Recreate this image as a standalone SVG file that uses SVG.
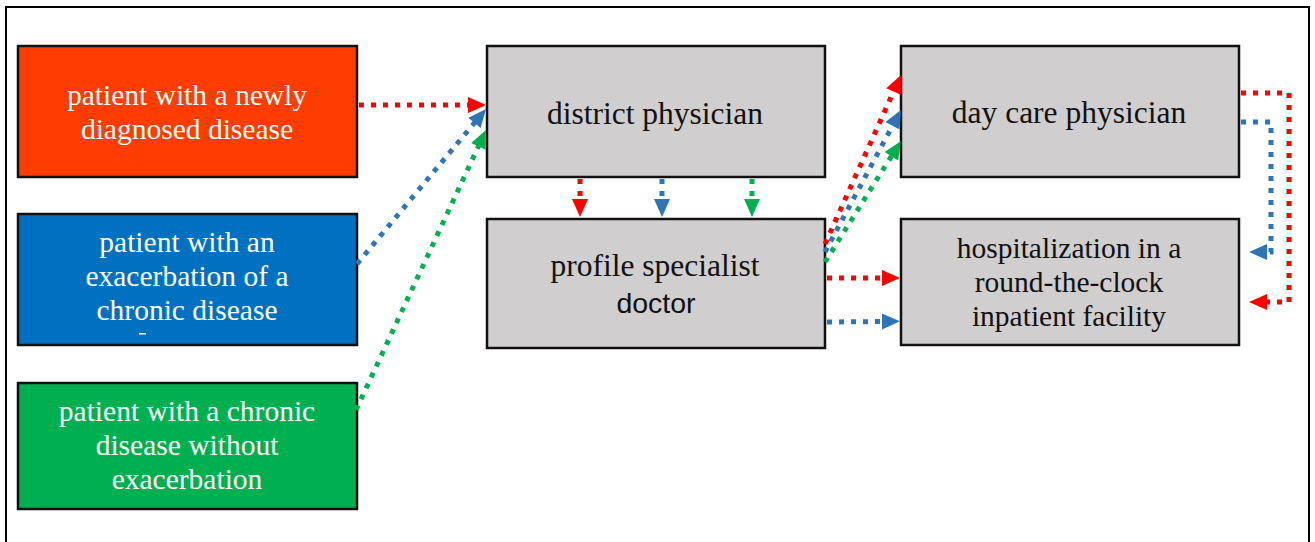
<svg xmlns="http://www.w3.org/2000/svg" width="1315" height="542" viewBox="0 0 1315 542">
<style>
.box{stroke:#111;stroke-width:2.5}
.red{fill:#FF3D00}.blue{fill:#0070C0}.green{fill:#00B050}.gray{fill:#D0CECE}
.wt{font-family:"Liberation Serif","Times New Roman",serif;font-size:29.5px;fill:#fff;text-anchor:middle}
.bt{font-family:"Liberation Serif","Times New Roman",serif;font-size:31.5px;fill:#111;text-anchor:middle}
.ht{font-family:"Liberation Serif","Times New Roman",serif;font-size:29.5px;fill:#111;text-anchor:middle}
.st{font-family:"Liberation Sans",Arial,sans-serif;font-size:28.5px;fill:#111;text-anchor:middle}
.c{fill:none;stroke-width:5;stroke-dasharray:5 7}
.cr{stroke:#FF0000}.cb{stroke:#2E75B6}.cg{stroke:#00B050}
</style>
<defs>
<marker id="ar" markerUnits="userSpaceOnUse" markerWidth="20" markerHeight="18" refX="3" refY="8" orient="auto" overflow="visible"><path d="M0,0 L18,8 L0,16 z" fill="#FF0000"/></marker>
<marker id="ab" markerUnits="userSpaceOnUse" markerWidth="20" markerHeight="18" refX="3" refY="8" orient="auto" overflow="visible"><path d="M0,0 L18,8 L0,16 z" fill="#2E75B6"/></marker>
<marker id="ag" markerUnits="userSpaceOnUse" markerWidth="20" markerHeight="18" refX="3" refY="8" orient="auto" overflow="visible"><path d="M0,0 L18,8 L0,16 z" fill="#00B050"/></marker>
</defs>
<rect x="0" y="0" width="1315" height="542" fill="#fff"/>
<rect x="6" y="7" width="1303" height="580" fill="none" stroke="#000" stroke-width="2"/>

<g id="n-new">
<rect class="box red" x="18" y="46" width="339" height="131"/>
<text class="wt" x="187" y="105">patient with a newly</text>
<text class="wt" x="187" y="139">diagnosed disease</text>
</g>
<g id="n-exac">
<rect class="box blue" x="18" y="214" width="339" height="131"/>
<text class="wt" x="187" y="252">patient with an</text>
<text class="wt" x="187" y="286">exacerbation of a</text>
<text class="wt" x="187" y="320">chronic disease</text>
<rect x="139" y="333" width="7" height="1.5" fill="#fff"/>
</g>
<g id="n-chronic">
<rect class="box green" x="18" y="383" width="339" height="126"/>
<text class="wt" x="187" y="421">patient with a chronic</text>
<text class="wt" x="187" y="455">disease without</text>
<text class="wt" x="187" y="489">exacerbation</text>
</g>
<g id="n-district">
<rect class="box gray" x="487" y="46" width="338" height="131"/>
<text class="bt" x="655" y="124">district physician</text>
</g>
<g id="n-profile">
<rect class="box gray" x="487" y="219" width="338" height="129"/>
<text class="bt" x="655" y="276">profile specialist</text>
<text class="st" x="656" y="313">doctor</text>
</g>
<g id="n-daycare">
<rect class="box gray" x="901" y="46" width="338" height="131"/>
<text class="bt" x="1069" y="123">day care physician</text>
</g>
<g id="n-hosp">
<rect class="box gray" x="901" y="219" width="338" height="126"/>
<text class="ht" x="1069" y="258">hospitalization in a</text>
<text class="ht" x="1069" y="292">round-the-clock</text>
<text class="ht" x="1069" y="326">inpatient facility</text>
</g>

<g id="connectors">
<path class="c cr" d="M359,105 L471,105" marker-end="url(#ar)"/>
<path class="c cb" d="M357,264 L476.4,120.5" marker-end="url(#ab)"/>
<path class="c cg" d="M356,410 L479.7,143.6" marker-end="url(#ag)"/>
<path class="c cr" d="M580,179 L580,202" marker-end="url(#ar)"/>
<path class="c cb" d="M662,179 L662,202" marker-end="url(#ab)"/>
<path class="c cg" d="M752,179 L752,202" marker-end="url(#ag)"/>
<path class="c cr" d="M825,244 L894.8,88.7" marker-end="url(#ar)"/>
<path class="c cb" d="M825,252 L893.9,123.2" marker-end="url(#ab)"/>
<path class="c cg" d="M825,262 L893,153.7" marker-end="url(#ag)"/>
<path class="c cr" d="M827,278 L885,278" marker-end="url(#ar)"/>
<path class="c cb" d="M827,322 L885,321.5" marker-end="url(#ab)"/>
<path class="c cr" d="M1241,93 H1289 V302 H1264" marker-end="url(#ar)"/>
<path class="c cb" d="M1241,122 H1271 V252 H1264" marker-end="url(#ab)"/>
</g>
</svg>
